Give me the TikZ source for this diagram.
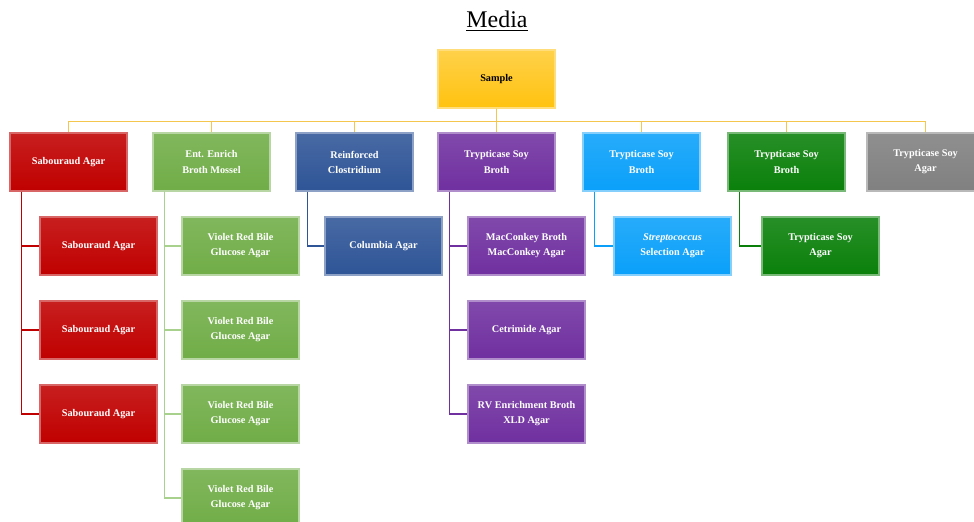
\documentclass[tikz,border=0pt]{standalone}
\usepackage{fontspec}
\setmainfont{Liberation Serif}
\usepackage{tikz}
\usetikzlibrary{positioning}
\definecolor{gold}{HTML}{FFC20E}
\definecolor{busgold}{HTML}{F4C64E}
\definecolor{sabred}{HTML}{C00000}
\definecolor{entgreen}{HTML}{70AD47}
\definecolor{entline}{HTML}{A9D18E}
\definecolor{rcblue}{HTML}{2F5597}
\definecolor{tsbpurple}{HTML}{7030A0}
\definecolor{tsbsky}{HTML}{0AA0FA}
\definecolor{tsbgreen}{HTML}{0A800A}
\definecolor{tsagray}{HTML}{808080}
\tikzset{box/.style={rectangle, minimum width=29.25mm, minimum height=14.5mm, inner sep=0mm,
    align=center, line width=1.1pt, text=white, font=\bfseries\fontsize{7.3}{10.7}\selectfont}}
\tikzset{samplebox/.style={box, top color=gold!75!white, bottom color=gold, draw=gold!55!white, text=black}}
\tikzset{sabbox/.style={box, top color=sabred!88!white, bottom color=sabred, draw=sabred!60!white}}
\tikzset{entbox/.style={box, top color=entgreen!88!white, bottom color=entgreen, draw=entgreen!50!white}}
\tikzset{rcbox/.style={box, top color=rcblue!88!white, bottom color=rcblue, draw=rcblue!55!white}}
\tikzset{purplebox/.style={box, top color=tsbpurple!88!white, bottom color=tsbpurple, draw=tsbpurple!55!white}}
\tikzset{skybox/.style={box, top color=tsbsky!88!white, bottom color=tsbsky, draw=tsbsky!50!white}}
\tikzset{dgreenbox/.style={box, top color=tsbgreen!88!white, bottom color=tsbgreen, draw=tsbgreen!55!white}}
\tikzset{graybox/.style={box, top color=tsagray!88!white, bottom color=tsagray, draw=tsagray!55!white}}
\tikzset{bus/.style={draw=busgold, line width=1pt}}
\tikzset{branch/.style={line width=1pt}}

\begin{document}
\begin{tikzpicture}[x=0.25mm, y=-0.25mm]
    \clip (0,0) rectangle (974,522);
    \fill[white] (0,0) rectangle (974,522);

    \node[font=\fontsize{17}{20}\selectfont] (title) at (497, 21) {\underline{Media}};

    \node[samplebox] (sample) at (496.5, 79) {Sample};

    % first row
    \node[sabbox]    (sab)  at (68.5, 162)  {Sabouraud Agar};
    \node[entbox]    (ent)  at (211.5, 162) {Ent. Enrich\\Broth Mossel};
    \node[rcbox]     (rc)   at (354.5, 162) {Reinforced\\Clostridium};
    \node[purplebox] (tsb1) at (496.5, 162) {Trypticase Soy\\Broth};
    \node[skybox]    (tsb2) at (641.5, 162) {Trypticase Soy\\Broth};
    \node[dgreenbox] (tsb3) at (786.5, 162) {Trypticase Soy\\Broth};
    \node[graybox]   (tsa)  at (925.5, 162) {Trypticase Soy\\Agar};

    % second level
    \node[sabbox]    (sab1) at (98.5, 246)  {Sabouraud Agar};
    \node[sabbox]    (sab2) at (98.5, 330)  {Sabouraud Agar};
    \node[sabbox]    (sab3) at (98.5, 414)  {Sabouraud Agar};
    \node[entbox]    (vrb1) at (240.5, 246) {Violet Red Bile\\Glucose Agar};
    \node[entbox]    (vrb2) at (240.5, 330) {Violet Red Bile\\Glucose Agar};
    \node[entbox]    (vrb3) at (240.5, 414) {Violet Red Bile\\Glucose Agar};
    \node[entbox]    (vrb4) at (240.5, 498) {Violet Red Bile\\Glucose Agar};
    \node[rcbox]     (col)  at (383.5, 246) {Columbia Agar};
    \node[purplebox] (mac)  at (526.5, 246) {MacConkey Broth\\MacConkey Agar};
    \node[purplebox] (cet)  at (526.5, 330) {Cetrimide Agar};
    \node[purplebox] (rv)   at (526.5, 414) {RV Enrichment Broth\\XLD Agar};
    \node[skybox]    (strp) at (672.5, 246) {\textit{Streptococcus}\\Selection Agar};
    \node[dgreenbox] (tsa2) at (820.5, 246) {Trypticase Soy\\Agar};

    \foreach \p in {sab, ent, rc, tsb1, tsb2, tsb3, tsa}
        \draw[bus] (sample.south) -- ++(0, 13) -| (\p.north);

    \foreach \c in {sab1, sab2, sab3}
        \draw[branch, sabred] ([xshift=3mm]sab.south west) |- (\c.west);
    \foreach \c in {vrb1, vrb2, vrb3, vrb4}
        \draw[branch, entline] ([xshift=3mm]ent.south west) |- (\c.west);
    \draw[branch, rcblue] ([xshift=3mm]rc.south west) |- (col.west);
    \foreach \c in {mac, cet, rv}
        \draw[branch, tsbpurple] ([xshift=3mm]tsb1.south west) |- (\c.west);
    \draw[branch, tsbsky] ([xshift=3mm]tsb2.south west) |- (strp.west);
    \draw[branch, tsbgreen] ([xshift=3mm]tsb3.south west) |- (tsa2.west);
\end{tikzpicture}
\end{document}
